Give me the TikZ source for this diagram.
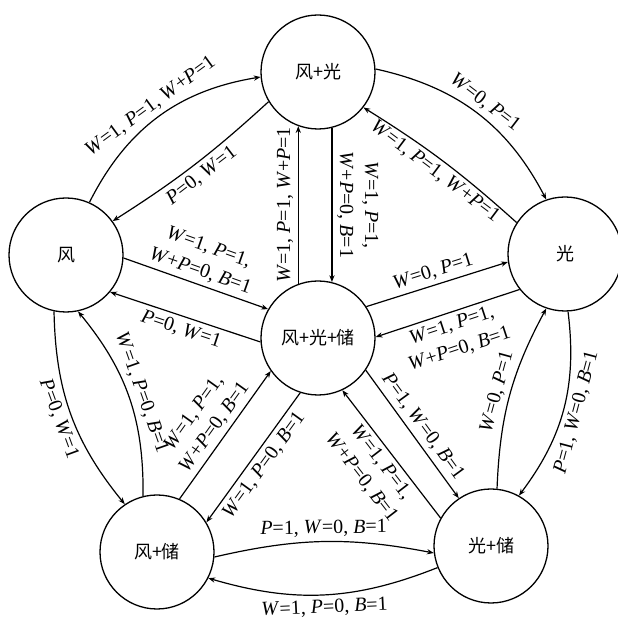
\documentclass[tikz,border=0pt]{standalone}
\usepackage{fontspec}
\setmainfont{Liberation Serif}
\newfontfamily\cjk{Noto Sans CJK SC}
\usepackage{tikz}
\usetikzlibrary{arrows.meta}

\newcommand{\vW}{\textit{W}}
\newcommand{\vP}{\textit{P}}
\newcommand{\vB}{\textit{B}}

\begin{document}
\begin{tikzpicture}[
    x=0.5pt,
    y=0.5pt,
    >={Stealth[length=3.4pt,width=2.6pt]},
    state/.style={circle, draw, line width=0.65pt, minimum size=57pt, inner sep=0pt, font=\cjk\fontsize{9}{10}\selectfont},
    trans/.style={->, line width=0.6pt},
    cond/.style={font=\fontsize{10}{12.5}\selectfont, inner sep=2.2pt, align=center}
]

% Page frame (pixel grid of the figure, y up)
\useasboundingbox (0,0) rectangle (617,620);

% States
\node[state] (fg)  at (318,548) {风+光};
\node[state] (f)   at (66,365)  {风};
\node[state] (g)   at (565,366) {光};
\node[state] (fgc) at (318,282) {风+光+储};
\node[state] (fc)  at (157,68)  {风+储};
\node[state] (gc)  at (491,74)  {光+储};

% Upper ring
\draw[trans] (f.66) to[bend left=27]
    node[cond, sloped, above] {\vW=1, \vP=1, \vW+\vP=1} (fg.185);
\draw[trans] (fg.211) to[bend left=5]
    node[cond, sloped, below] {\vP=0, \vW=1} (f.36);
\draw[trans] (fg.3) to[bend left=25]
    node[cond, sloped, above] {\vW=0, \vP=1} (g.109);
\draw[trans] (g.147) to[bend right=5]
    node[cond, sloped, below] {\vW=1, \vP=1, \vW+\vP=1} (fg.322);

% To and from the centre
\draw[trans] (fgc.110) --
    node[cond, rotate=90, anchor=south] {\vW=1, \vP=1, \vW+\vP=1} (fg.250);
\draw[trans] (fg.284) --
    node[cond, rotate=-90, anchor=south] {\vW=1, \vP=1,\\ \vW+\vP=0, \vB=1} (fgc.76);
\draw[trans] (f.357) --
    node[cond, sloped, above] {\vW=1, \vP=1,\\ \vW+\vP=0, \vB=1} (fgc.150);
\draw[trans] (fgc.184) --
    node[cond, sloped, below] {\vP=0, \vW=1} (f.320);
\draw[trans] (fgc.33) --
    node[cond, sloped, above] {\vW=0, \vP=1} (g.188);
\draw[trans] (g.218) --
    node[cond, sloped, below] {\vW=1, \vP=1,\\ \vW+\vP=0, \vB=1} (fgc.1);
\draw[trans] (fc.67) --
    node[cond, sloped, above] {\vW=1, \vP=1,\\ \vW+\vP=0, \vB=1} (fgc.215);
\draw[trans] (fgc.252) --
    node[cond, sloped, below] {\vW=1, \vP=0, \vB=1} (fc.31);
\draw[trans] (fgc.326) --
    node[cond, sloped, above] {\vP=1, \vW=0, \vB=1} (gc.124);
\draw[trans] (gc.151) --
    node[cond, sloped, below] {\vW=1, \vP=1,\\ \vW+\vP=0, \vB=1} (fgc.295);

% Lower ring
\draw[trans] (f.258) to[bend right=19]
    node[cond, sloped, below] {\vP=0, \vW=1} (fc.124);
\draw[trans] (fc.104) to[bend right=20]
    node[cond, sloped, above] {\vW=1, \vP=0, \vB=1} (f.282);
\draw[trans] (fc.355) to[bend left=12]
    node[cond, sloped, above] {\vP=1, \vW=0, \vB=1} (gc.187);
\draw[trans] (gc.202) to[bend left=19]
    node[cond, sloped, below] {\vW=1, \vP=0, \vB=1} (fc.333);
\draw[trans] (gc.84) to[bend left=13]
    node[cond, sloped, above] {\vW=0, \vP=1} (g.251);
\draw[trans] (g.273) to[bend left=22]
    node[cond, sloped, below] {\vP=1, \vW=0, \vB=1} (gc.61);

\end{tikzpicture}
\end{document}
